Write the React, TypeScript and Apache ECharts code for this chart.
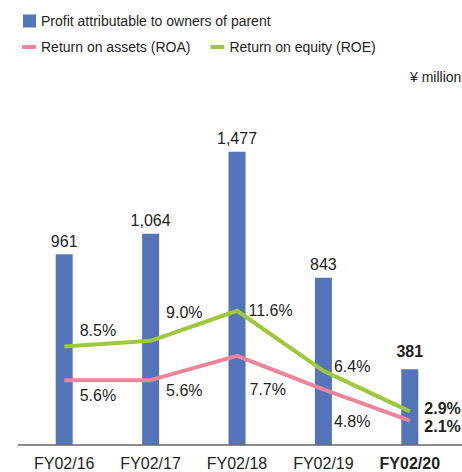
import React, { useEffect, useRef } from "react";
import * as echarts from "echarts";

const categories = ["FY02/16", "FY02/17", "FY02/18", "FY02/19", "FY02/20"];
const profit = [961, 1064, 1477, 843, 381];
const roa = [5.6, 5.6, 7.7, 4.8, 2.1];
const roe = [8.5, 9.0, 11.6, 6.4, 2.9];
const roeOffsets = [[10, -16], [10, -28], [6, 0], [5, -4], [9, -3]];
const roaOffsets = [[10, 15], [10, 10], [7, 34], [5, 32], [9, 6]];

const FONT = "'Liberation Sans', Arial, Helvetica, sans-serif";
const TEXT = "#231f20";
const BLUE = "#5474b9";
const PINK = "#ef8399";
const GREEN = "#9cc83a";

export default function App() {
  const ref = useRef<HTMLDivElement>(null);
  useEffect(() => {
    if (!ref.current) return;
    const chart = echarts.init(ref.current, null, { renderer: "svg" });
    const last = categories.length - 1;
    chart.setOption({
      animation: false,
      textStyle: { fontFamily: FONT, color: TEXT },
      legend: [
        {
          data: [{ name: "Profit attributable to owners of parent", icon: "rect" }],
          left: 18,
          top: 9,
          itemWidth: 13,
          itemHeight: 13,
          textStyle: { fontSize: 14, color: TEXT, fontFamily: FONT },
          selectedMode: false,
        },
        {
          data: [
            { name: "Return on assets (ROA)", icon: "roundRect" },
            { name: "Return on equity (ROE)", icon: "roundRect" },
          ],
          left: 17,
          top: 35,
          itemWidth: 14,
          itemHeight: 4,
          itemGap: 20,
          textStyle: { fontSize: 14, color: TEXT, fontFamily: FONT },
          selectedMode: false,
        },
      ],
      grid: { left: 21, right: 9, top: 48, bottom: 27 },
      xAxis: {
        type: "category",
        data: categories,
        axisLine: { show: false },
        axisTick: { show: false },
        axisLabel: {
          interval: 0,
          hideOverlap: false,
          fontSize: 16,
          color: TEXT,
          fontFamily: FONT,
          margin: 10,
          formatter: (v: string, i: number) => (i === last ? `{b|${v}}` : v),
          rich: { b: { fontWeight: "bold", fontSize: 16, color: TEXT, fontFamily: FONT } },
        },
      },
      yAxis: [
        { type: "value", min: 0, max: 2000, show: false, splitLine: { show: false } },
        { type: "value", min: 0, max: 34.3, show: false, splitLine: { show: false } },
      ],
      graphic: [
        {
          type: "line",
          shape: { x1: 18, y1: 445, x2: 462, y2: 445 },
          style: { stroke: "#666", lineWidth: 1.5 },
          z: 10,
        },
        {
          type: "text",
          x: 410,
          y: 70,
          style: { text: "¥ million", fontSize: 14, fill: TEXT, fontFamily: FONT },
        },
      ],
      series: [
        {
          name: "Profit attributable to owners of parent",
          type: "bar",
          yAxisIndex: 0,
          barWidth: 17,
          itemStyle: { color: BLUE },
          label: {
            show: true,
            position: "top",
            distance: 5,
            fontSize: 16,
            color: TEXT,
            fontFamily: FONT,
            formatter: (p: any) => Number(p.value).toLocaleString("en-US"),
          },
          data: profit.map((v, i) =>
            i === last
              ? { value: v, label: { fontWeight: "bold", distance: 10 } }
              : { value: v }
          ),
        },
        {
          name: "Return on assets (ROA)",
          type: "line",
          yAxisIndex: 1,
          symbol: "circle",
          symbolSize: 1,
          itemStyle: { color: PINK },
          lineStyle: { color: PINK, width: 4 },
          z: 5,
          label: {
            show: true,
            position: "right",
            fontSize: 16,
            color: TEXT,
            fontFamily: FONT,
            formatter: (p: any) => `${Number(p.value).toFixed(1)}%`,
          },
          data: roa.map((v, i) => ({
            value: v,
            label: { offset: roaOffsets[i], fontWeight: i === last ? "bold" : "normal" },
          })),
        },
        {
          name: "Return on equity (ROE)",
          type: "line",
          yAxisIndex: 1,
          symbol: "circle",
          symbolSize: 1,
          itemStyle: { color: GREEN },
          lineStyle: { color: GREEN, width: 4 },
          z: 6,
          label: {
            show: true,
            position: "right",
            fontSize: 16,
            color: TEXT,
            fontFamily: FONT,
            formatter: (p: any) => `${Number(p.value).toFixed(1)}%`,
          },
          data: roe.map((v, i) => ({
            value: v,
            label: { offset: roeOffsets[i], fontWeight: i === last ? "bold" : "normal" },
          })),
        },
      ],
    });
    return () => chart.dispose();
  }, []);
  return (
    <div
      ref={ref}
      style={{ position: "fixed", left: 0, top: 0, width: 462, height: 472, background: "#fff" }}
    />
  );
}
